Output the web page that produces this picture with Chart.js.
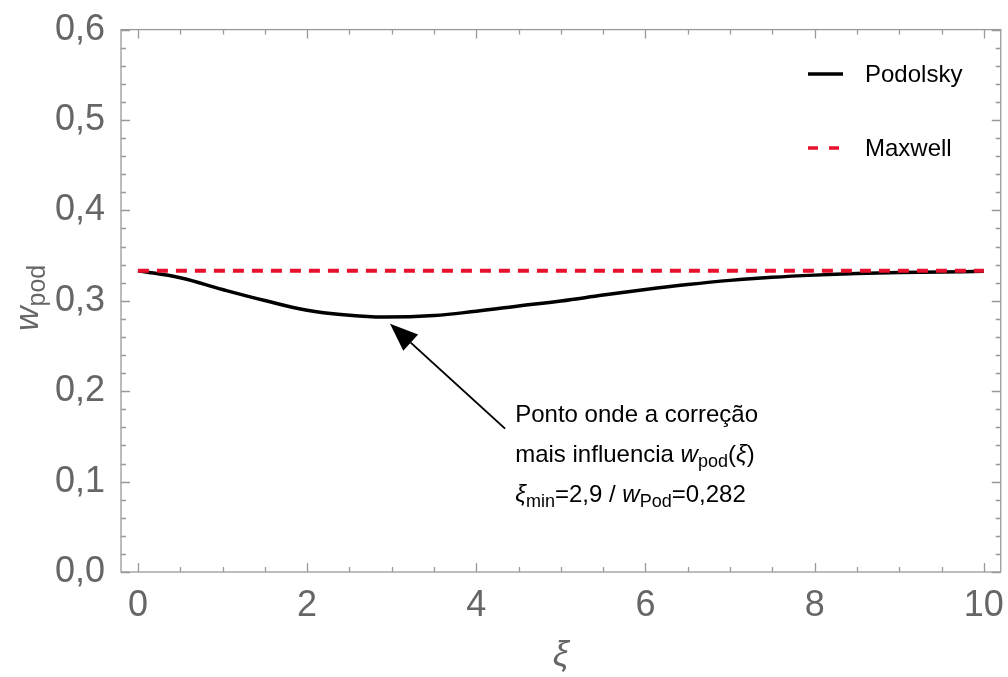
<!DOCTYPE html>
<html lang="pt">
<head>
  <meta charset="UTF-8" />
  <title>w_pod vs ξ</title>
  <script src="https://cdn.jsdelivr.net/npm/chart.js"></script>
  <style>
    body { margin: 0; background: #fff; }
    #wrap { width: 1008px; height: 677px; }
  </style>
</head>
<body>
  <div id="wrap"><canvas id="plot" width="1008" height="677"></canvas></div>

  <script>
    // values
    const xi = [0, 0.5, 1, 1.5, 2, 2.5, 2.9, 3.5, 4, 4.5, 5, 5.5, 6, 6.5, 7, 7.5, 8, 8.5, 9, 9.5, 10];
    const podolsky = [0.3333, 0.3255, 0.3125, 0.3003, 0.2895, 0.2840, 0.2820, 0.2837, 0.2885, 0.2942, 0.2998,
                      0.3063, 0.3125, 0.3180, 0.3226, 0.3260, 0.3284, 0.3301, 0.3312, 0.3319, 0.3326];
    const maxwellXi = [0, 10];
    const maxwell = [0.3333, 0.3333];
    const xTicks = [0, 2, 4, 6, 8, 10];
    const yTicks = [0, 0.1, 0.2, 0.3, 0.4, 0.5, 0.6];

    const FONT = '"Liberation Sans", Arial, sans-serif';
    const GREY = '#666';
    const RED = '#e8112d';

    const toPts = (xs, ys) => xs.map((x, i) => ({ x: x, y: ys[i] }));

    function drawRuns(ctx, x, y, runs) {
      let cx = x;
      runs.forEach(r => {
        ctx.font = r.font;
        ctx.fillText(r.t, cx, y + (r.dy || 0));
        cx += ctx.measureText(r.t).width;
      });
    }

    const framePlugin = {
      id: 'frame',
      afterDatasetsDraw(chart) {
        const { ctx, chartArea: a, scales } = chart;
        const xs = scales.x, ys = scales.y;
        ctx.save();
        ctx.strokeStyle = '#999';
        ctx.lineWidth = 1.3;
        ctx.strokeRect(a.left, a.top, a.right - a.left, a.bottom - a.top);
        ctx.beginPath();
        for (let v = 0; v <= 10.001; v += 0.5) {
          const px = Math.round(xs.getPixelForValue(v)) + 0.5;
          const len = Math.abs(v % 2) < 1e-6 ? 9 : 5;
          ctx.moveTo(px, a.bottom); ctx.lineTo(px, a.bottom - len);
          ctx.moveTo(px, a.top); ctx.lineTo(px, a.top + len);
        }
        for (let k = 0; k <= 30; k++) {
          const py = Math.round(ys.getPixelForValue(k * 0.02)) + 0.5;
          const len = k % 5 === 0 ? 9 : 5;
          ctx.moveTo(a.left, py); ctx.lineTo(a.left + len, py);
          ctx.moveTo(a.right, py); ctx.lineTo(a.right - len, py);
        }
        ctx.stroke();
        ctx.restore();
      },
      afterDraw(chart) {
        const { ctx, chartArea: a, scales } = chart;
        const xs = scales.x, ys = scales.y;
        ctx.save();

        // axis titles
        ctx.fillStyle = GREY;
        ctx.textBaseline = 'alphabetic';
        ctx.font = 'italic 36px ' + FONT;
        ctx.textAlign = 'center';
        ctx.fillText('ξ', (a.left + a.right) / 2, 666);
        ctx.textAlign = 'left';
        ctx.save();
        ctx.translate(38, 331);
        ctx.rotate(-Math.PI / 2);
        drawRuns(ctx, 0, 0, [
          { t: 'w', font: 'italic 34px ' + FONT },
          { t: 'pod', font: '25px ' + FONT, dy: 7 }
        ]);
        ctx.restore();

        // legend
        ctx.lineWidth = 3.5;
        ctx.strokeStyle = '#000';
        ctx.beginPath(); ctx.moveTo(808, 74); ctx.lineTo(843, 74); ctx.stroke();
        ctx.strokeStyle = RED;
        ctx.setLineDash([10, 11]);
        ctx.beginPath(); ctx.moveTo(808, 148); ctx.lineTo(840, 148); ctx.stroke();
        ctx.setLineDash([]);
        ctx.fillStyle = '#000';
        ctx.font = '24px ' + FONT;
        ctx.textBaseline = 'middle';
        ctx.fillText('Podolsky', 865, 75);
        ctx.fillText('Maxwell', 865, 149);

        // arrow to the minimum
        const tipX = xs.getPixelForValue(2.98), tipY = ys.getPixelForValue(0.2746);
        const tailX = xs.getPixelForValue(4.34), tailY = ys.getPixelForValue(0.1586);
        const ang = Math.atan2(tipY - tailY, tipX - tailX);
        const hl = 28, hw = 11;
        const bx = tipX - hl * Math.cos(ang), by = tipY - hl * Math.sin(ang);
        ctx.strokeStyle = '#000';
        ctx.lineWidth = 2;
        ctx.beginPath(); ctx.moveTo(tailX, tailY); ctx.lineTo(bx, by); ctx.stroke();
        ctx.beginPath();
        ctx.moveTo(tipX, tipY);
        ctx.lineTo(bx + hw * Math.sin(ang), by - hw * Math.cos(ang));
        ctx.lineTo(bx - hw * Math.sin(ang), by + hw * Math.cos(ang));
        ctx.closePath();
        ctx.fill();

        // annotation text
        ctx.textBaseline = 'alphabetic';
        const tx = xs.getPixelForValue(4.46);
        const f = '24px ' + FONT, fi = 'italic 24px ' + FONT, fs = '18px ' + FONT;
        drawRuns(ctx, tx, 422, [{ t: 'Ponto onde a correção', font: f }]);
        drawRuns(ctx, tx, 462, [
          { t: 'mais influencia ', font: f },
          { t: 'w', font: fi },
          { t: 'pod', font: fs, dy: 5 },
          { t: '(', font: f },
          { t: 'ξ', font: fi },
          { t: ')', font: f }
        ]);
        drawRuns(ctx, tx, 502, [
          { t: 'ξ', font: fi },
          { t: 'min', font: fs, dy: 5 },
          { t: '=2,9 / ', font: f },
          { t: 'w', font: fi },
          { t: 'Pod', font: fs, dy: 5 },
          { t: '=0,282', font: f }
        ]);
        ctx.restore();
      }
    };

    new Chart(document.getElementById('plot'), {
      type: 'line',
      data: {
        datasets: [
          {
            label: 'Podolsky',
            data: toPts(xi, podolsky),
            borderColor: '#000',
            borderWidth: 3.5,
            pointRadius: 0,
            tension: 0.4,
            order: 2
          },
          {
            label: 'Maxwell',
            data: toPts(maxwellXi, maxwell),
            borderColor: RED,
            borderWidth: 4,
            borderDash: [11, 8],
            pointRadius: 0,
            order: 1
          }
        ]
      },
      options: {
        responsive: false,
        animation: false,
        layout: { padding: { top: 27, right: 7, left: 0, bottom: 0 } },
        plugins: { legend: { display: false }, tooltip: { enabled: false } },
        scales: {
          x: {
            type: 'linear',
            min: -0.2,
            max: 10.2,
            afterBuildTicks: s => { s.ticks = xTicks.map(v => ({ value: v })); },
            afterFit: s => { s.height = 105; },
            grid: { display: false },
            border: { display: false },
            ticks: {
              color: GREY,
              font: { family: FONT, size: 36 },
              padding: 4,
              maxRotation: 0,
              callback: v => String(v)
            }
          },
          y: {
            min: 0,
            max: 0.6,
            afterBuildTicks: s => { s.ticks = yTicks.map(v => ({ value: v })); },
            afterFit: s => { s.width = 121; },
            grid: { display: false },
            border: { display: false },
            ticks: {
              color: GREY,
              font: { family: FONT, size: 36 },
              padding: 8,
              callback: v => v.toFixed(1).replace('.', ',')
            }
          }
        }
      },
      plugins: [framePlugin]
    });
  </script>
</body>
</html>
